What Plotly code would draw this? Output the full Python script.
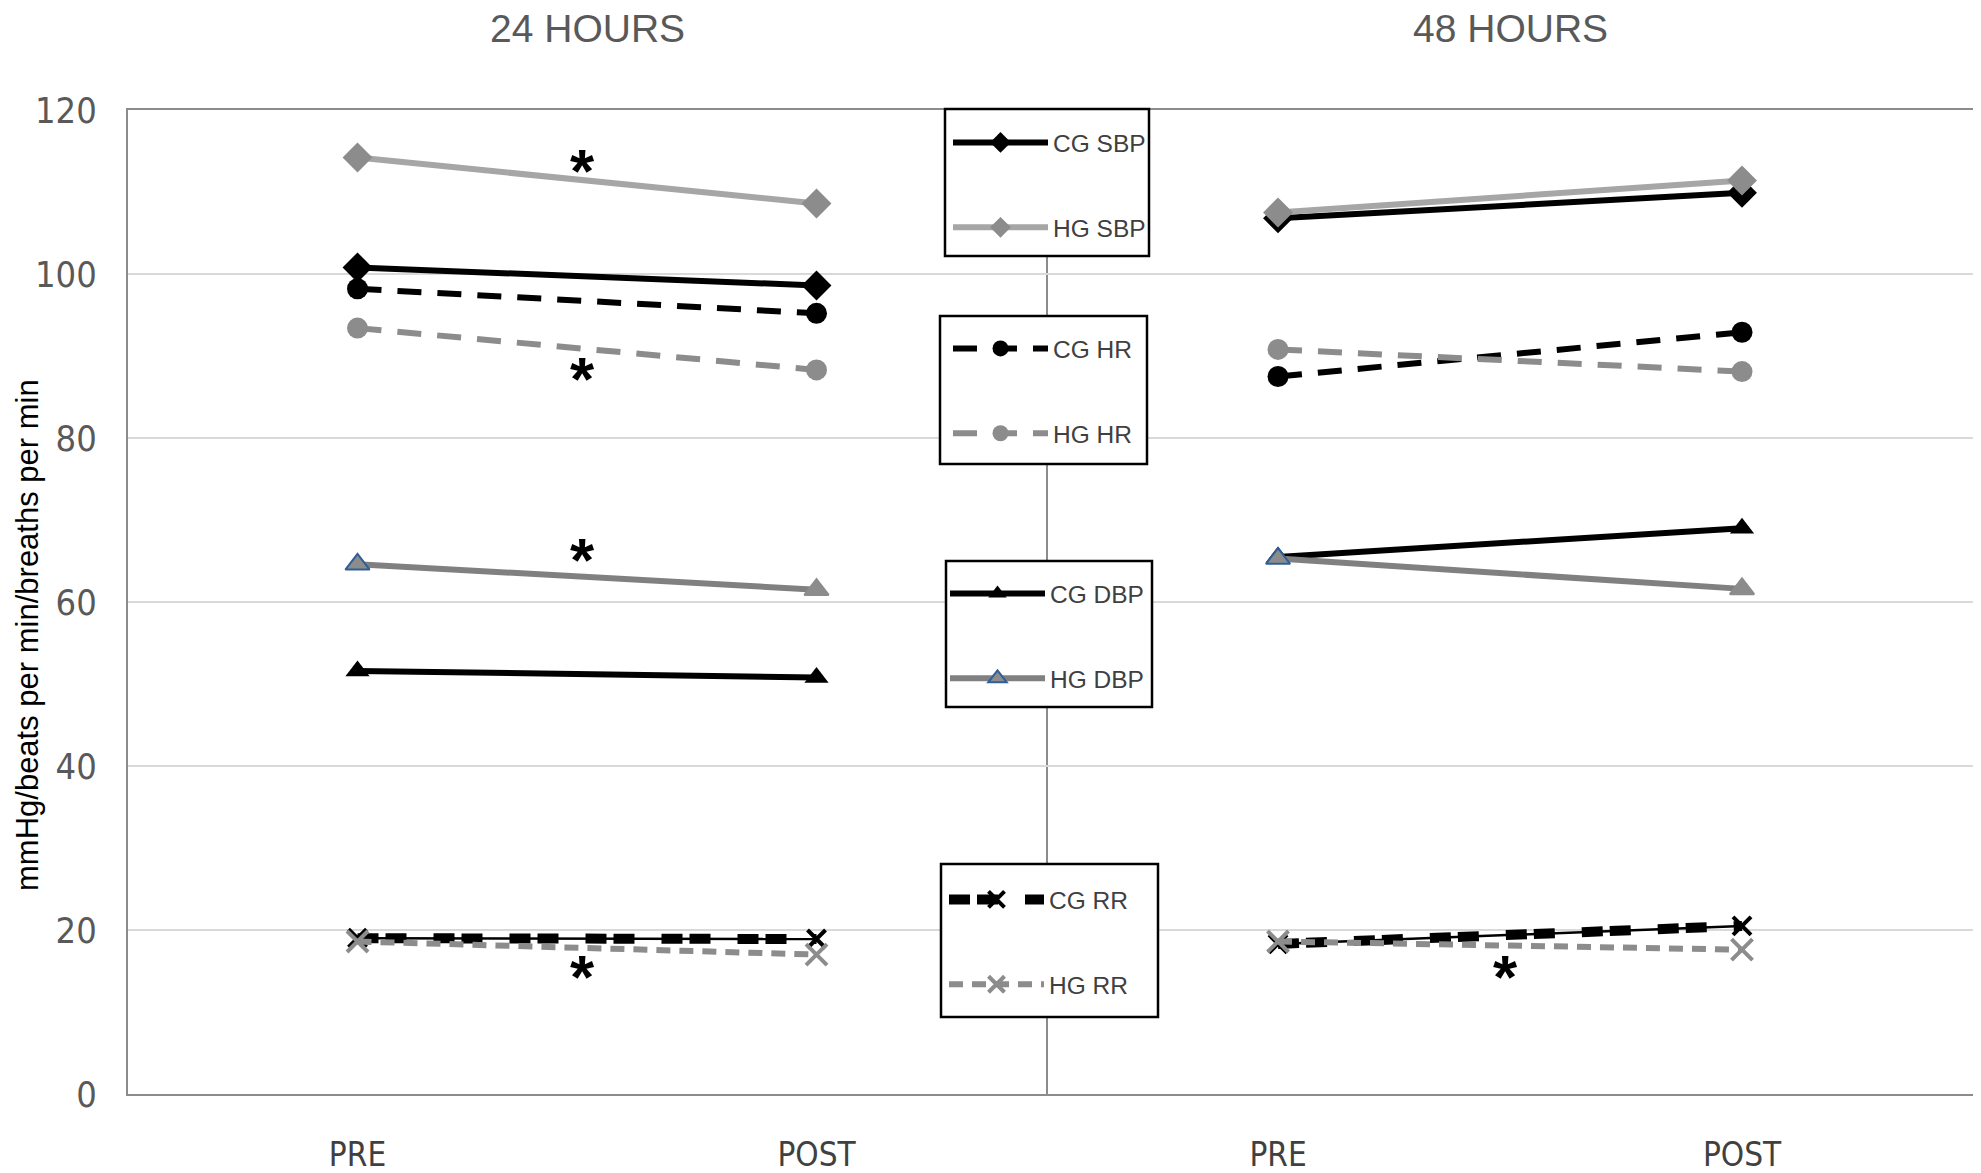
import plotly.graph_objects as go

# ---------------- data ----------------
categories = ["PRE", "POST"]

# 24 HOURS panel
cg_sbp_24 = [100.8, 98.6]
hg_sbp_24 = [114.2, 108.6]
cg_hr_24 = [98.2, 95.2]
hg_hr_24 = [93.4, 88.3]
cg_dbp_24 = [51.6, 50.8]
hg_dbp_24 = [64.6, 61.5]
cg_rr_24 = [19.0, 18.9]
hg_rr_24 = [18.6, 17.0]

# 48 HOURS panel
cg_sbp_48 = [106.8, 109.9]
hg_sbp_48 = [107.5, 111.4]
cg_hr_48 = [87.5, 92.9]
hg_hr_48 = [90.8, 88.1]
cg_dbp_48 = [65.5, 69.0]
hg_dbp_48 = [65.3, 61.6]
cg_rr_48 = [18.3, 20.5]
hg_rr_48 = [18.6, 17.6]

panel_titles = ["24 HOURS", "48 HOURS"]
y_ticks = [0, 20, 40, 60, 80, 100, 120]
y_title = "mmHg/beats per min/breaths per min"

# significance asterisks (value positions, between PRE and POST)
sig_24 = [113.4, 88.0, 65.9, 15.1]
sig_48 = [15.1]

# ---------------- styles ----------------
NARROW = "Liberation Sans Narrow, Arial Narrow, DejaVu Sans Condensed, Liberation Sans, Arial"
SANS = "Liberation Sans, Arial, Helvetica"

styles = {
    "CG SBP": dict(color="black", width=6, dash="solid", symbol="diamond", msize=23, mcolor="black", legend="legend"),
    "HG SBP": dict(color="#a6a6a6", width=6, dash="solid", symbol="diamond", msize=23, mcolor="#8c8c8c", legend="legend"),
    "CG HR": dict(color="black", width=6, dash="24px,16px", symbol="circle", msize=21, mcolor="black", legend="legend2"),
    "HG HR": dict(color="#8c8c8c", width=6, dash="24px,16px", symbol="circle", msize=21, mcolor="#8c8c8c", legend="legend2"),
    "CG DBP": dict(color="black", width=6, dash="solid", symbol="triangle-up", msize=21, mcolor="black", legend="legend3"),
    "HG DBP": dict(color="#808080", width=6, dash="solid", symbol="triangle-up", msize=21, mcolor="#8c8c8c", legend="legend3"),
    "CG RR": dict(color="black", width=10, dash="21px,7px,21px,27px", symbol="x-thin", msize=18, mcolor="black", legend="legend4"),
    "HG RR": dict(color="#8c8c8c", width=6, dash="14px,9px", symbol="x-thin", msize=21, mcolor="#8c8c8c", legend="legend4"),
}

panels = [
    dict(xaxis="x", yaxis="y", data={
        "CG SBP": cg_sbp_24, "HG SBP": hg_sbp_24, "CG HR": cg_hr_24, "HG HR": hg_hr_24,
        "CG DBP": cg_dbp_24, "HG DBP": hg_dbp_24, "CG RR": cg_rr_24, "HG RR": hg_rr_24}),
    dict(xaxis="x2", yaxis="y2", data={
        "CG SBP": cg_sbp_48, "HG SBP": hg_sbp_48, "CG HR": cg_hr_48, "HG HR": hg_hr_48,
        "CG DBP": cg_dbp_48, "HG DBP": hg_dbp_48, "CG RR": cg_rr_48, "HG RR": hg_rr_48}),
]

order = ["CG SBP", "HG SBP", "CG HR", "HG HR", "CG DBP", "HG DBP", "CG RR", "HG RR"]

fig = go.Figure()
for pi, p in enumerate(panels):
    for name in order:
        s = styles[name]
        vals = p["data"][name]
        if name == "CG RR":
            # thin continuous base line under the block dashes
            fig.add_trace(go.Scatter(
                x=categories, y=vals, mode="lines", xaxis=p["xaxis"], yaxis=p["yaxis"],
                line=dict(color="black", width=2.5), showlegend=False, hoverinfo="skip"))
        if s["symbol"] == "x-thin":
            marker = dict(symbol=s["symbol"], size=s["msize"], color=s["mcolor"],
                          line=dict(color=s["mcolor"], width=4))
        elif name == "HG DBP":
            marker = dict(symbol=s["symbol"], size=s["msize"], color=s["mcolor"],
                          line=dict(color=["#2f5f96", s["mcolor"]], width=2))
        else:
            marker = dict(symbol=s["symbol"], size=s["msize"], color=s["mcolor"], line=dict(width=0))
        fig.add_trace(go.Scatter(
            x=categories, y=vals, mode="lines+markers", name=name,
            xaxis=p["xaxis"], yaxis=p["yaxis"],
            line=dict(color=s["color"], width=s["width"], dash=s["dash"]),
            marker=marker, legend=s["legend"], legendgroup=name,
            showlegend=(pi == 0)))

# ---------------- layout ----------------
# page is 1981x1173; the figure div sits 8px in from the top-left of the page
BODY = 8
W, H = 1981 - BODY, 1173 - BODY
PLOT_L, PLOT_T, PLOT_R, PLOT_B = 128, 110, 1974, 1094   # plot area in page pixels
ml, mt = PLOT_L - BODY, PLOT_T - BODY
mr, mb = 1981 - PLOT_R, 1173 - PLOT_B
split = 0.4973

axis_line = dict(showline=True, linecolor="#8c8c8c", linewidth=2)

fig.update_layout(
    width=W, height=H, margin=dict(l=ml, r=mr, t=mt, b=mb, autoexpand=False),
    paper_bgcolor="white", plot_bgcolor="white",
    font=dict(family=SANS),
    xaxis=dict(domain=[0, split], type="category", range=[-0.5, 1.5], anchor="y", automargin=False,
               showgrid=False, ticks="", mirror=True, ticklabelstandoff=30,
               tickfont=dict(family=NARROW, size=33, color="#404040"), **axis_line),
    xaxis2=dict(domain=[split, 1], type="category", range=[-0.5, 1.5], anchor="y2", automargin=False,
                showgrid=False, ticks="", mirror=True, ticklabelstandoff=30,
                tickfont=dict(family=NARROW, size=33, color="#404040"), **axis_line),
    yaxis=dict(range=[0, 120], tickvals=y_ticks, showgrid=True, gridcolor="#d9d9d9", gridwidth=2,
               zeroline=False, mirror=True, ticks="", ticklabelstandoff=22, automargin=False,
               tickfont=dict(family=NARROW, size=36, color="#595959"),
               **axis_line),
    yaxis2=dict(range=[0, 120], tickvals=y_ticks, showgrid=True, gridcolor="#d9d9d9", gridwidth=2,
                zeroline=False, side="right", anchor="x2", showticklabels=False, ticks="",
                automargin=False, **axis_line),
)

plot_w = PLOT_R - PLOT_L
plot_h = PLOT_B - PLOT_T

def px_to_paper_x(px):
    return (px - PLOT_L) / plot_w

def px_to_paper_y(py):
    return (PLOT_B - py) / plot_h

# legend frames (decoration): left, top, right, bottom in page pixels
frames = [(945, 109, 1149, 256), (940, 316, 1147, 464), (946, 561, 1152, 707), (941, 864, 1158, 1017)]
# where each legend's first line-sample starts (x) and first entry centre (y)
entry_starts = [(950, 141), (950, 347), (947, 592), (946, 898)]

shapes = []
for (x0, y0, x1, y1) in frames:
    shapes.append(dict(type="rect", xref="paper", yref="paper",
                       x0=px_to_paper_x(x0), x1=px_to_paper_x(x1),
                       y0=px_to_paper_y(y1), y1=px_to_paper_y(y0),
                       line=dict(color="black", width=2.5), fillcolor="white", layer="above"))
fig.update_layout(shapes=shapes)

leg_common = dict(bgcolor="rgba(0,0,0,0)", borderwidth=0,
                  font=dict(family=SANS, size=24.5, color="#404040"),
                  itemwidth=95, tracegroupgap=50, traceorder="grouped",
                  xanchor="left", yanchor="top", orientation="v")
legend_keys = ["legend", "legend2", "legend3", "legend4"]
fig.update_layout(**{
    k: dict(x=px_to_paper_x(sx - 2), y=px_to_paper_y(sy - 21), **leg_common)
    for k, (sx, sy) in zip(legend_keys, entry_starts)
})

annotations = []
for i, t in enumerate(panel_titles):
    annotations.append(dict(text=t, xref="x domain" if i == 0 else "x2 domain", x=0.5,
                            yref="paper", y=px_to_paper_y(28), yanchor="middle",
                            showarrow=False, font=dict(family=SANS, size=39, color="#595959")))
annotations.append(dict(text=y_title, xref="paper", yref="paper",
                        x=px_to_paper_x(28), y=px_to_paper_y(635), xanchor="center", yanchor="middle",
                        textangle=-90, showarrow=False,
                        font=dict(family=SANS, size=31, color="black")))
for xa, ya, sigs in [("x", "y", sig_24), ("x2", "y2", sig_48)]:
    for v in sigs:
        annotations.append(dict(text="<b>*</b>", xref=xa, yref=ya, x=0.5, y=v, showarrow=False,
                                yshift=-6, xshift=-5, font=dict(family=SANS, size=62, color="black")))
fig.update_layout(annotations=annotations)

fig.write_html("out.html")
